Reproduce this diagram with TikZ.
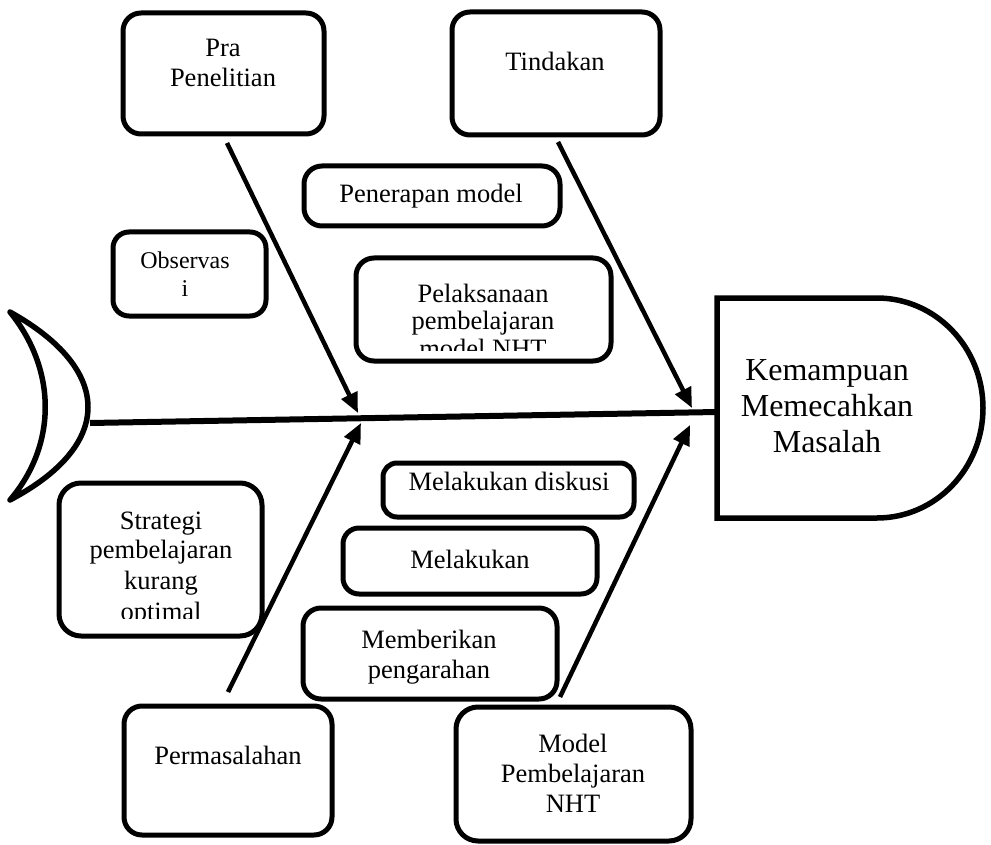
\documentclass[tikz,border=0pt]{standalone}
\usepackage{fontspec}
\setmainfont{Liberation Serif}
\usetikzlibrary{arrows.meta}
\begin{document}
\begin{tikzpicture}[x=1pt,y=-1pt,
  bx/.style={draw=black, line width=5pt, rounded corners=18pt, fill=white, inner sep=0pt, outer sep=0pt},
  tx/.style={anchor=base, inner sep=0pt, font=\fontsize{26.5}{30}\selectfont},
  txs/.style={anchor=base, inner sep=0pt, font=\fontsize{24}{28}\selectfont},
  txb/.style={anchor=base, inner sep=0pt, font=\fontsize{32}{36}\selectfont},
  arr/.style={draw=black, line width=4.5pt, -{Triangle[length=20pt,width=17pt]}},
  thick5/.style={draw=black, line width=5.5pt, line join=round, line cap=round}
]
\useasboundingbox (0,0) rectangle (991,845);

% boxes
\node[bx, minimum width=201pt, minimum height=121pt] (pra) at (223.5,73.5) {};
\node[bx, minimum width=208pt, minimum height=123pt] (tin) at (556,73.5) {};
\node[bx, minimum width=256pt, minimum height=60pt] (pen) at (432,196) {};
\node[bx, minimum width=153pt, minimum height=84pt, rounded corners=16pt] (obs) at (189.5,274) {};
\node[bx, minimum width=255pt, minimum height=103pt] (pel) at (483.5,309.5) {};
\node[bx, minimum width=203pt, minimum height=153pt, rounded corners=22pt] (str) at (160.5,559.5) {};
\node[bx, minimum width=251pt, minimum height=54pt, rounded corners=14pt] (dis) at (508.5,490) {};
\node[bx, minimum width=254pt, minimum height=66pt, rounded corners=16pt] (mel) at (470,561) {};
\node[bx, minimum width=254pt, minimum height=91pt] (mem) at (430,653.5) {};
\node[bx, minimum width=208pt, minimum height=129pt] (per) at (228,770.5) {};
\node[bx, minimum width=235pt, minimum height=134pt, rounded corners=22pt] (mod) at (573.5,774) {};

% texts
\node[tx] (praA) at (223,57) {Pra};
\node[tx] (praB) at (223,87) {Penelitian};
\node[tx] (tinA) at (555,71) {Tindakan};
\node[tx] (penA) at (431,203) {Penerapan model};
\node[txs] (obsA) at (185,269) {Observas};
\node[txs] (obsB) at (185,297) {i};
\begin{scope}
  \clip (356,258) rectangle (611,350);
  \node[tx] (pelA) at (483,302) {Pelaksanaan};
  \node[tx] (pelB) at (483,329) {pembelajaran};
  \node[tx] (pelC) at (483,357) {model NHT};
\end{scope}
\begin{scope}
  \clip (59,483) rectangle (262,618);
  \node[tx] (strA) at (161,529) {Strategi};
  \node[tx] (strB) at (161,558) {pembelajaran};
  \node[tx] (strC) at (161,589) {kurang};
  \node[tx] (strD) at (161,620) {optimal};
\end{scope}
\node[tx] (disA) at (509,490) {Melakukan diskusi};
\node[tx] (melA) at (470,568) {Melakukan};
\node[tx] (memA) at (429,648) {Memberikan};
\node[tx] (memB) at (429,678) {pengarahan};
\node[tx] (perA) at (228,764) {Permasalahan};
\node[tx] (modA) at (573,752) {Model};
\node[tx] (modB) at (573,782) {Pembelajaran};
\node[tx] (modC) at (573,812) {NHT};

% head
\draw[black, line width=5.5pt, line join=miter, fill=white]
  (717,298) -- (877,298) arc[start angle=90, end angle=-90, x radius=106pt, y radius=110pt] -- (717,518) -- cycle;
\node[txb] (hA) at (827,380) {Kemampuan};
\node[txb] (hB) at (827,416) {Memecahkan};
\node[txb] (hC) at (827,452) {Masalah};

% tail
\draw[thick5] (10,312) .. controls (114,370) and (114,445) .. (10,500)
  .. controls (57,445) and (57,370) .. (10,312);

% spine
\coordinate (tail) at (90,423);
\coordinate (headw) at (717,412);
\draw[black, line width=6pt] (tail) -- (headw);

% arrows
\coordinate (praS) at (227,143);
\coordinate (praE) at (358,413);
\coordinate (tinS) at (558,142);
\coordinate (tinE) at (692,408);
\coordinate (perS) at (228,692);
\coordinate (perE) at (361,423);
\coordinate (modS) at (560,697);
\coordinate (modE) at (690,425);
\draw[arr] (praS) -- (praE);
\draw[arr] (tinS) -- (tinE);
\draw[arr] (perS) -- (perE);
\draw[arr] (modS) -- (modE);
\end{tikzpicture}
\end{document}
